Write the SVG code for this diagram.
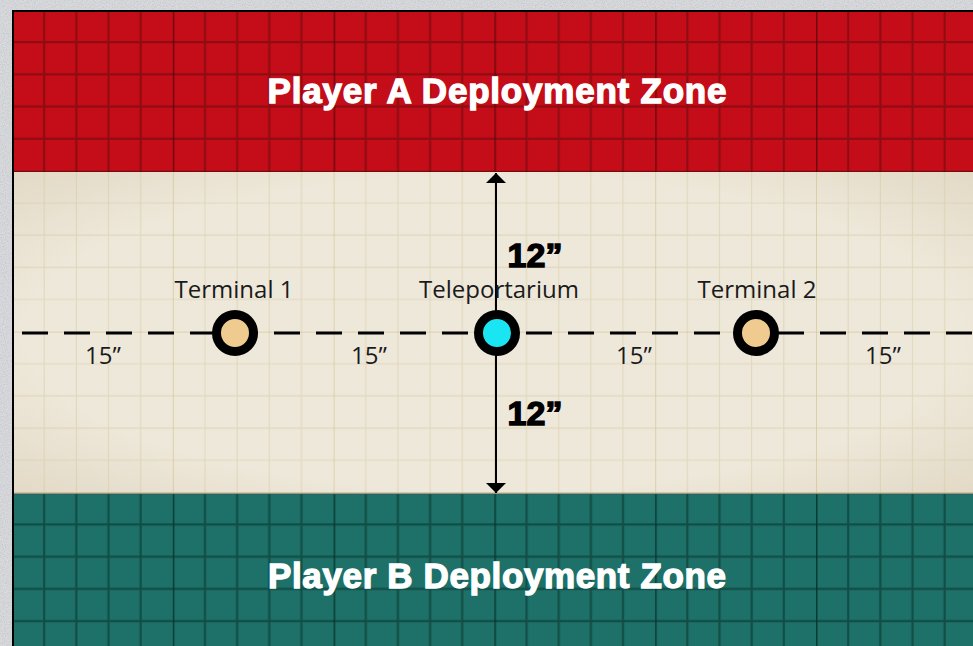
<svg xmlns="http://www.w3.org/2000/svg" width="973" height="646" viewBox="0 0 973 646">
<defs>
<style>
.title{font-family:"Liberation Sans",Arial,sans-serif;font-weight:bold;font-size:35px;fill:#ffffff;stroke:#ffffff;stroke-width:1.3;text-anchor:middle}
.lbl{font-family:"Open Sans","Liberation Sans",sans-serif;font-size:24px;fill:#1a1a1a;text-anchor:middle}
.dist{font-family:"Open Sans","Liberation Sans",sans-serif;font-size:24px;fill:#1a1a1a;text-anchor:middle}
.big{font-family:"Liberation Sans",Arial,sans-serif;font-weight:bold;font-size:34px;fill:#000000;stroke:#000;stroke-width:1.4;text-anchor:middle}
.ring{stroke:#000;stroke-width:9}
</style>
<pattern id="gridRed" patternUnits="userSpaceOnUse" x="12" y="10" width="160.8" height="160.8">
<g stroke="#6e0a0e" stroke-opacity="0.6" stroke-width="2.2" fill="none">
<path d="M32.16 0V160.8M64.32 0V160.8M96.48 0V160.8M128.64 0V160.8M0 32.16H160.8M0 64.32H160.8M0 96.48H160.8M0 128.64H160.8"/>
</g>
<path d="M0 0V160.8M0 0H160.8" stroke="#5a060a" stroke-opacity="0.8" stroke-width="3" fill="none"/>
</pattern>
<pattern id="gridTeal" patternUnits="userSpaceOnUse" x="12" y="10" width="160.8" height="160.8">
<g stroke="#0a3a35" stroke-opacity="0.65" stroke-width="2.2" fill="none">
<path d="M32.16 0V160.8M64.32 0V160.8M96.48 0V160.8M128.64 0V160.8M0 32.16H160.8M0 64.32H160.8M0 96.48H160.8M0 128.64H160.8"/>
</g>
<path d="M0 0V160.8M0 0H160.8" stroke="#06302b" stroke-opacity="0.85" stroke-width="3" fill="none"/>
</pattern>
<pattern id="gridCream" patternUnits="userSpaceOnUse" x="12" y="10" width="160.8" height="160.8">
<g stroke="#d2c69e" stroke-opacity="0.5" stroke-width="1.1" fill="none">
<path d="M32.16 0V160.8M64.32 0V160.8M96.48 0V160.8M128.64 0V160.8M0 32.16H160.8M0 64.32H160.8M0 96.48H160.8M0 128.64H160.8"/>
</g>
<path d="M0 0V160.8M0 0H160.8" stroke="#cbb976" stroke-opacity="0.65" stroke-width="1.5" fill="none"/>
</pattern>
<filter id="noise" x="0" y="0" width="100%" height="100%">
<feTurbulence type="fractalNoise" baseFrequency="0.9" numOctaves="2" seed="3" result="n"/>
<feColorMatrix type="matrix" values="0 0 0 0 0  0 0 0 0 0  0 0 0 0 0  0 0 0 -1.2 0.75"/>
</filter>
<radialGradient id="vig" cx="0.5" cy="0.5" r="0.75">
<stop offset="0.65" stop-color="#8a6a2a" stop-opacity="0"/>
<stop offset="1" stop-color="#8a6a2a" stop-opacity="0.14"/>
</radialGradient>
<marker id="ah" viewBox="0 0 10 20" refX="10" refY="10" markerWidth="10" markerHeight="20" markerUnits="userSpaceOnUse" orient="auto-start-reverse">
<path d="M0 0L10 10L0 20Z" fill="#000"/>
</marker>
</defs>

<!-- outer background -->
<rect width="973" height="646" fill="#d9dadd"/>
<rect width="973" height="646" filter="url(#noise)" opacity="0.15"/>

<!-- map -->
<g id="map">
<rect x="12" y="10" width="961" height="636" fill="#000"/>
<rect x="14" y="12" width="959" height="160" fill="#c40d18"/>
<rect x="14" y="12" width="959" height="160" fill="url(#gridRed)"/>
<rect x="14" y="172" width="959" height="322" fill="#eee8da"/>
<rect x="14" y="172" width="959" height="322" fill="url(#vig)"/>
<rect x="14" y="172" width="959" height="322" fill="url(#gridCream)"/>
<rect x="14" y="494" width="959" height="152" fill="#1d7168"/>
<rect x="14" y="494" width="959" height="152" fill="url(#gridTeal)"/>
<line x1="14" y1="493.5" x2="973" y2="493.5" stroke="#6b6a5e" stroke-width="1.5" stroke-opacity="0.6"/>
</g>

<g id="zone-a">
<text class="title" x="497" y="103" textLength="459" lengthAdjust="spacing">Player A Deployment Zone</text>
</g>
<g id="zone-b">
<text class="title" x="497" y="588" textLength="458" lengthAdjust="spacing">Player B Deployment Zone</text>
</g>

<g id="connectors">
<line x1="22" y1="333" x2="973" y2="333" stroke="#000" stroke-width="3" stroke-dasharray="26 16"/>
<line x1="496" y1="173" x2="496" y2="493" stroke="#000" stroke-width="2" marker-start="url(#ah)" marker-end="url(#ah)"/>
</g>

<g id="distances">
<text class="dist" x="103" y="364">15”</text>
<text class="dist" x="369" y="364">15”</text>
<text class="dist" x="634" y="364">15”</text>
<text class="dist" x="883" y="364">15”</text>
<text class="big" x="535" y="267">12”</text>
<text class="big" x="535" y="425">12”</text>
</g>

<g id="terminal-1">
<circle class="ring" cx="235" cy="333" r="18.5" fill="#efcb8f"/>
<text class="lbl" x="234" y="298">Terminal 1</text>
</g>
<g id="teleportarium">
<circle class="ring" cx="497" cy="333" r="18.5" fill="#19e6f2"/>
<text class="lbl" x="499" y="298">Teleportarium</text>
</g>
<g id="terminal-2">
<circle class="ring" cx="756" cy="333" r="18.5" fill="#efcb8f"/>
<text class="lbl" x="757" y="298">Terminal 2</text>
</g>
</svg>
